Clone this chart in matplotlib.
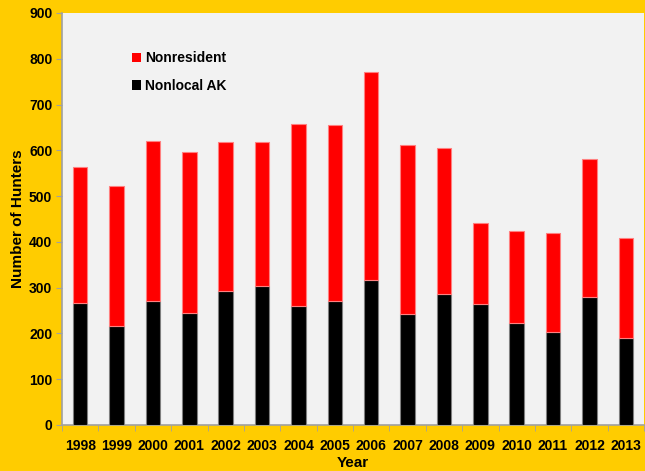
import matplotlib
matplotlib.use("Agg")
import matplotlib.pyplot as plt
from matplotlib.patches import Patch
import numpy as np

years = ["1998", "1999", "2000", "2001", "2002", "2003", "2004", "2005",
         "2006", "2007", "2008", "2009", "2010", "2011", "2012", "2013"]
nonlocal_ak = [266, 216, 270, 244, 292, 304, 261, 270,
               316, 242, 286, 265, 222, 204, 280, 190]
nonresident = [298, 305, 351, 352, 327, 315, 397, 385,
               455, 369, 320, 177, 201, 216, 300, 219]
yticks = [0, 100, 200, 300, 400, 500, 600, 700, 800, 900]

plt.rcParams['font.family'] = ['Liberation Sans', 'DejaVu Sans']
plt.rcParams['font.weight'] = 'bold'

W, H = 645, 471
fig = plt.figure(figsize=(W / 100, H / 100), dpi=100, facecolor='#FFCC00')
ax = fig.add_axes([62 / W, (H - 425) / H, 582 / W, 412 / H])
ax.set_facecolor('#F2F2F2')

x = np.arange(len(years))
ax.bar(x, nonlocal_ak, width=0.4, color='black', edgecolor='#7F7F7F', linewidth=0.8, zorder=3)
ax.bar(x, nonresident, bottom=nonlocal_ak, width=0.4, color='#FF0000',
       edgecolor='#FF8080', linewidth=0.8, zorder=3)

ax.set_xlim(-0.5, len(years) - 0.5)
ax.set_ylim(0, 900)
ax.set_yticks(yticks)
ax.set_yticklabels([str(v) for v in yticks], fontsize=10, fontweight='bold')
ax.set_xticks(x)
ax.set_xticklabels(years, fontsize=10, fontweight='bold')
ax.set_xticks(np.arange(-0.5, len(years)), minor=True)
ax.tick_params(axis='x', which='major', length=0, pad=10)
ax.tick_params(axis='x', which='minor', length=4, color='#A0A0A0', direction='out')
ax.tick_params(axis='y', length=4, color='#A0A0A0', direction='out', pad=3)

for s in ['top', 'right']:
    ax.spines[s].set_visible(False)
for s in ['left', 'bottom']:
    ax.spines[s].set_color('#A0A0A0')
    ax.spines[s].set_linewidth(1.2)

ax.set_xlabel('Year', fontsize=11, fontweight='bold', labelpad=2)
ax.set_ylabel('Number of Hunters', fontsize=11, fontweight='bold', labelpad=3)

handles = [Patch(facecolor='#FF0000', edgecolor='none'),
           Patch(facecolor='black', edgecolor='none')]
ax.legend(handles, ['Nonresident', 'Nonlocal AK'], loc='upper left',
          bbox_to_anchor=(0.098, 0.937), frameon=False,
          handlelength=0.7, handleheight=0.7, handletextpad=0.25,
          labelspacing=0.95, prop={'weight': 'bold', 'size': 10})

fig.savefig('out.png', dpi=100, facecolor=fig.get_facecolor())
